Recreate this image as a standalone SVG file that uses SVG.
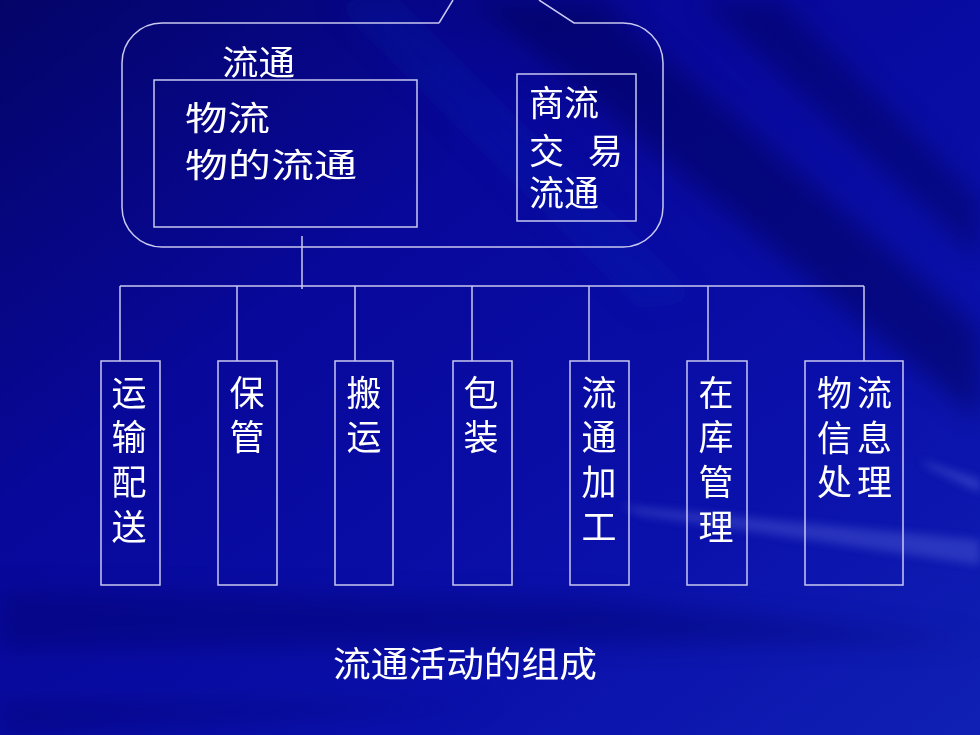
<svg xmlns="http://www.w3.org/2000/svg" width="980" height="735" viewBox="0 0 980 735">
  <defs>
    <linearGradient id="bg" x1="0" y1="0" x2="1" y2="1">
      <stop offset="0" stop-color="#040468"/>
      <stop offset="0.35" stop-color="#08089A"/>
      <stop offset="0.7" stop-color="#0A10AA"/>
      <stop offset="1" stop-color="#1020B4"/>
    </linearGradient>
    <filter id="blur" x="-20%" y="-20%" width="140%" height="140%">
      <feGaussianBlur stdDeviation="12"/>
    </filter>
    <filter id="blur2" x="-20%" y="-20%" width="140%" height="140%">
      <feGaussianBlur stdDeviation="4"/>
    </filter>
    <style>
      .ln { fill: none; stroke: #C8C8F0; stroke-width: 1.5; }
      .tx { fill: #FFFFFF; font-family: "Liberation Sans", "Noto Sans CJK SC", "Noto Sans CJK JP", sans-serif; }
      .v { font-size: 35px; text-anchor: middle; }
    </style>
  </defs>

  <!-- background -->
  <rect x="0" y="0" width="980" height="735" fill="url(#bg)"/>
  <g filter="url(#blur)">
    <polygon points="470,0 600,0 980,330 980,420" fill="#000050" opacity="0.45"/>
    <polygon points="700,0 780,0 980,200 980,260" fill="#000050" opacity="0.4"/>
    <polygon points="0,590 600,600 980,640 0,650" fill="#000060" opacity="0.35"/>
    <polygon points="0,700 500,705 0,735" fill="#000060" opacity="0.3"/>
    <polygon points="330,0 400,0 700,300 640,310" fill="#1A22C0" opacity="0.15"/>
  </g>
  <g filter="url(#blur2)">
    <polygon points="620,505 980,540 980,565 640,515" fill="#8090F0" opacity="0.25"/>
    <polygon points="920,460 980,480 980,492 930,468" fill="#8090F0" opacity="0.3"/>
  </g>

  <!-- container bubble -->
  <g id="container">
    <path class="ln" d="M439,23 L453,0 M539,0 L574,23 L623,23 A40,40 0 0 1 663,63 L663,207 A40,40 0 0 1 623,247 L162,247 A40,40 0 0 1 122,207 L122,63 A40,40 0 0 1 162,23 L439,23"/>
    <text class="tx" x="222" y="75" font-size="34" textLength="73" lengthAdjust="spacingAndGlyphs">流通</text>
  </g>

  <g id="wuliu">
    <rect class="ln" x="154" y="80" width="263" height="147"/>
    <text class="tx" font-size="33"><tspan x="185" y="130" textLength="85" lengthAdjust="spacingAndGlyphs">物流</tspan><tspan x="185" y="177" textLength="172" lengthAdjust="spacingAndGlyphs">物的流通</tspan></text>
  </g>

  <g id="shangliu">
    <rect class="ln" x="517" y="74" width="119" height="147"/>
    <text class="tx" font-size="35"><tspan x="529" y="116">商流</tspan><tspan x="529 564 588" y="164">交 易</tspan><tspan x="529" y="206">流通</tspan></text>
  </g>

  <!-- connectors -->
  <g id="connectors">
    <path class="ln" d="M302,236 L302,289 M120,286 L864,286 M120,286 L120,361 M237,286 L237,361 M355,286 L355,361 M472,286 L472,361 M589,286 L589,361 M708,286 L708,361 M864,286 L864,361"/>
  </g>

  <g id="yunshu">
    <rect class="ln" x="101" y="361" width="59" height="224"/>
    <text class="tx v"><tspan x="129" y="406">运</tspan><tspan x="129" y="450">输</tspan><tspan x="129" y="495">配</tspan><tspan x="129" y="540">送</tspan></text>
  </g>

  <g id="baoguan">
    <rect class="ln" x="218" y="361" width="59" height="224"/>
    <text class="tx v"><tspan x="247" y="406">保</tspan><tspan x="247" y="450">管</tspan></text>
  </g>

  <g id="banyun">
    <rect class="ln" x="335" y="361" width="58" height="224"/>
    <text class="tx v"><tspan x="364" y="406">搬</tspan><tspan x="364" y="450">运</tspan></text>
  </g>

  <g id="baozhuang">
    <rect class="ln" x="453" y="361" width="59" height="224"/>
    <text class="tx v"><tspan x="481" y="406">包</tspan><tspan x="481" y="450">装</tspan></text>
  </g>

  <g id="liutong">
    <rect class="ln" x="570" y="361" width="59" height="224"/>
    <text class="tx v"><tspan x="599" y="406">流</tspan><tspan x="599" y="450">通</tspan><tspan x="599" y="495">加</tspan><tspan x="599" y="540">工</tspan></text>
  </g>

  <g id="zaiku">
    <rect class="ln" x="687" y="361" width="60" height="224"/>
    <text class="tx v"><tspan x="716" y="406">在</tspan><tspan x="716" y="450">库</tspan><tspan x="716" y="495">管</tspan><tspan x="716" y="540">理</tspan></text>
  </g>

  <g id="xinxi">
    <rect class="ln" x="805" y="361" width="98" height="224"/>
    <text class="tx" font-size="35"><tspan x="817 857" y="406">物流</tspan><tspan x="817 857" y="451">信息</tspan><tspan x="817 857" y="495">处理</tspan></text>
  </g>

  <g id="title">
    <text class="tx" x="333" y="677" font-size="35" textLength="264" lengthAdjust="spacingAndGlyphs">流通活动的组成</text>
  </g>
</svg>
